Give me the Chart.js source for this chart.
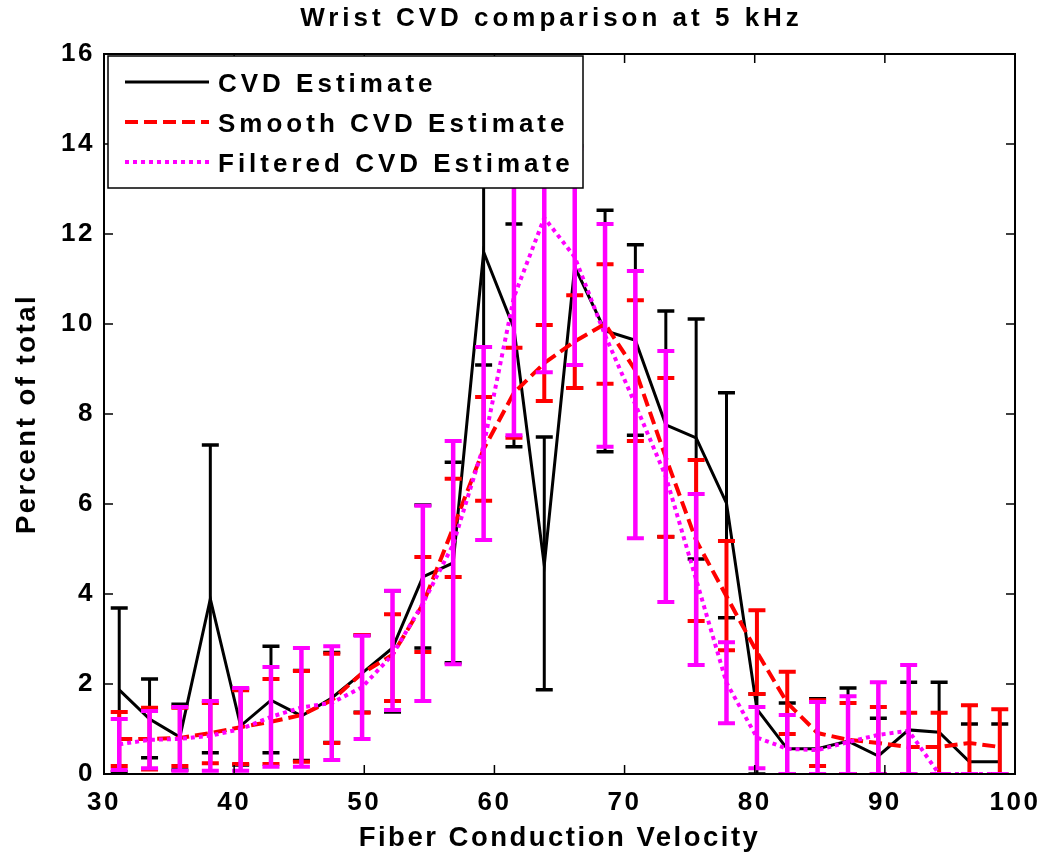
<!DOCTYPE html>
<html>
<head>
<meta charset="utf-8">
<title>Wrist CVD comparison at 5 kHz</title>
<script src="https://cdn.jsdelivr.net/npm/chart.js@4.4.1/dist/chart.umd.min.js"></script>
<style>
  html, body { margin: 0; padding: 0; background: #fff; }
  #contenedor { width: 1052px; height: 857px; }
</style>
</head>
<body>
<div id="contenedor"><canvas id="grafico" width="1052" height="857"></canvas></div>
<script>
// Centros de los intervalos de velocidad (eje x)
const velocidad = [31.17, 33.5, 35.83, 38.17, 40.5, 42.83, 45.17, 47.5, 49.83, 52.17,
                   54.5, 56.83, 59.17, 61.5, 63.83, 66.17, 68.5, 70.83, 73.17, 75.5,
                   77.83, 80.17, 82.5, 84.83, 87.17, 89.5, 91.83, 94.17, 96.5, 98.83];

// CVD Estimate (negro) con sus limites de error
const cvd     = [1.87, 1.22, 0.82, 3.89, 1.07, 1.64, 1.29, 1.69, 2.24, 2.8,
                 4.38, 4.69, 11.6, 9.9, 4.64, 11.27, 9.85, 9.64, 7.76, 7.47,
                 6.02, 1.44, 0.56, 0.56, 0.73, 0.4, 0.98, 0.93, 0.27, 0.27];
const cvdBajo = [0.05, 0.36, 0.09, 0.47, 0.2, 0.47, 0.3, 0.7, 1.37, 1.38,
                 2.8, 2.47, 9.09, 7.27, 1.87, 8.58, 7.16, 7.53, 5.27, 4.78,
                 3.47, 0, 0, 0, 0, 0, 0, 0, 0, 0];
const cvdAlto = [3.69, 2.11, 1.55, 7.31, 1.9, 2.84, 2.3, 2.7, 3.09, 4.07,
                 5.98, 6.93, 14.1, 12.22, 7.49, 13.96, 12.53, 11.76, 10.29, 10.11,
                 8.47, 1.78, 1.58, 1.67, 1.91, 1.24, 2.04, 2.04, 1.11, 1.11];

// Smooth CVD Estimate (rojo)
const suave     = [0.78, 0.78, 0.8, 0.91, 1.04, 1.16, 1.31, 1.64, 2.24, 2.65,
                   3.77, 5.47, 7.22, 8.47, 9.13, 9.61, 10.0, 8.97, 7.03, 5.19,
                   3.95, 2.71, 1.58, 0.91, 0.76, 0.69, 0.6, 0.6, 0.69, 0.6];
const suaveBajo = [0.18, 0.1, 0.18, 0.24, 0.22, 0.22, 0.27, 0.69, 1.36, 1.62,
                   2.71, 4.38, 6.07, 7.47, 8.29, 8.58, 8.67, 7.4, 5.27, 3.4,
                   2.75, 1.78, 0.89, 0.18, 0, 0, 0, 0, 0, 0];
const suaveAlto = [1.38, 1.47, 1.47, 1.58, 1.86, 2.11, 2.29, 2.67, 3.09, 3.55,
                   4.82, 6.56, 8.38, 9.47, 9.98, 10.64, 11.33, 10.53, 8.8, 6.98,
                   5.18, 3.64, 2.27, 1.64, 1.58, 1.49, 1.36, 1.36, 1.53, 1.44];

// Filtered CVD Estimate (magenta)
const filtrado     = [0.66, 0.76, 0.78, 0.85, 1.0, 1.27, 1.48, 1.58, 1.93, 2.65,
                      3.79, 5.1, 7.3, 10.6, 12.36, 11.49, 9.75, 8.21, 6.61, 4.32,
                      2.03, 0.81, 0.56, 0.53, 0.71, 0.87, 0.96, 0, 0, 0];
const filtradoBajo = [0.09, 0.13, 0.07, 0.07, 0.07, 0.16, 0.16, 0.31, 0.78, 1.42,
                      1.62, 2.44, 5.2, 7.53, 8.93, 9.09, 7.27, 5.24, 3.82, 2.42,
                      1.13, 0.13, 0, 0, 0, 0, 0, 0, 0, 0];
const filtradoAlto = [1.22, 1.4, 1.49, 1.62, 1.91, 2.38, 2.8, 2.84, 3.07, 4.07,
                      5.96, 7.4, 9.49, 13.67, 15.8, 13.9, 12.22, 11.18, 9.4, 6.22,
                      2.93, 1.49, 1.31, 1.6, 1.73, 2.04, 2.42, 0, 0, 0];

const ticksX = [30, 40, 50, 60, 70, 80, 90, 100];
const ticksY = [0, 2, 4, 6, 8, 10, 12, 14, 16];

const FUENTE = '"Liberation Sans", Arial, sans-serif';

function puntos(valores) {
    return velocidad.map((v, i) => ({ x: v, y: valores[i] }));
}

// barras de error estilo MATLAB
const barrasError = {
    id: 'barrasError',
    afterDatasetDraw(chart, args) {
        const ds = chart.data.datasets[args.index];
        if (!ds.errorBajo) return;
        const ctx = chart.ctx;
        const ejeX = chart.scales.x;
        const ejeY = chart.scales.y;
        const area = chart.chartArea;
        ctx.save();
        ctx.beginPath();
        ctx.rect(area.left, area.top, area.right - area.left, area.bottom - area.top);
        ctx.clip();
        ctx.strokeStyle = ds.borderColor;
        ctx.setLineDash([]);
        ctx.lineCap = 'butt';
        ds.data.forEach((p, i) => {
            const px = ejeX.getPixelForValue(p.x);
            const yb = ejeY.getPixelForValue(ds.errorBajo[i]);
            const ya = ejeY.getPixelForValue(ds.errorAlto[i]);
            const m = ds.anchoTope / 2;
            ctx.lineWidth = ds.grosorBarra;
            ctx.beginPath();
            ctx.moveTo(px, yb);
            ctx.lineTo(px, ya);
            ctx.stroke();
            ctx.lineWidth = ds.grosorTope;
            ctx.beginPath();
            ctx.moveTo(px - m, yb); ctx.lineTo(px + m, yb);
            ctx.moveTo(px - m, ya); ctx.lineTo(px + m, ya);
            ctx.stroke();
        });
        ctx.restore();
    }
};

// marco, ticks hacia dentro, titulo y leyenda
const decoracion = {
    id: 'decoracion',
    beforeDraw(chart) {
        chart.ctx.letterSpacing = '2.5px';
    },
    afterDraw(chart) {
        const ctx = chart.ctx;
        const a = chart.chartArea;
        const ejeX = chart.scales.x;
        const ejeY = chart.scales.y;
        ctx.save();
        ctx.strokeStyle = '#000';
        ctx.setLineDash([]);
        ctx.lineWidth = 1.5;
        ctx.beginPath();
        ticksX.forEach(t => {
            const px = ejeX.getPixelForValue(t);
            ctx.moveTo(px, a.bottom); ctx.lineTo(px, a.bottom - 9);
            ctx.moveTo(px, a.top); ctx.lineTo(px, a.top + 9);
        });
        ticksY.forEach(t => {
            const py = ejeY.getPixelForValue(t);
            ctx.moveTo(a.left, py); ctx.lineTo(a.left + 9, py);
            ctx.moveTo(a.right, py); ctx.lineTo(a.right - 9, py);
        });
        ctx.stroke();
        ctx.lineWidth = 2;
        ctx.strokeRect(a.left, a.top, a.right - a.left, a.bottom - a.top);

        // titulo
        ctx.fillStyle = '#000';
        ctx.font = 'bold 26px ' + FUENTE;
        ctx.letterSpacing = '4px';
        ctx.textAlign = 'center';
        ctx.textBaseline = 'middle';
        ctx.fillText('Wrist CVD comparison at 5 kHz', (a.left + a.right) / 2 - 8, 19);

        // leyenda
        const caja = { x: a.left + 4, y: a.top + 2, w: 475, h: 132 };
        ctx.fillStyle = '#fff';
        ctx.fillRect(caja.x, caja.y, caja.w, caja.h);
        ctx.lineWidth = 1.5;
        ctx.strokeRect(caja.x, caja.y, caja.w, caja.h);
        ctx.font = 'bold 26px ' + FUENTE;
        ctx.letterSpacing = '4px';
        ctx.textAlign = 'left';
        chart.data.datasets.forEach((ds, i) => {
            const yl = caja.y + 26 + i * 40;
            ctx.strokeStyle = ds.borderColor;
            ctx.lineWidth = ds.borderWidth;
            ctx.setLineDash(ds.borderDash || []);
            ctx.beginPath();
            ctx.moveTo(caja.x + 17, yl);
            ctx.lineTo(caja.x + 101, yl);
            ctx.stroke();
            ctx.fillStyle = '#000';
            ctx.fillText(ds.label, caja.x + 110, yl + 3);
        });
        ctx.restore();
    }
};

const ctx = document.getElementById('grafico').getContext('2d');
new Chart(ctx, {
    type: 'line',
    data: {
        datasets: [{
            label: 'CVD Estimate',
            data: puntos(cvd),
            errorBajo: cvdBajo,
            errorAlto: cvdAlto,
            borderColor: '#000000',
            borderWidth: 3,
            grosorBarra: 3,
            grosorTope: 3.5,
            anchoTope: 17,
            order: 3
        }, {
            label: 'Smooth CVD Estimate',
            data: puntos(suave),
            errorBajo: suaveBajo,
            errorAlto: suaveAlto,
            borderColor: '#ff0000',
            borderWidth: 4,
            borderDash: [13, 6],
            grosorBarra: 4,
            grosorTope: 4,
            anchoTope: 17,
            order: 2
        }, {
            label: 'Filtered CVD Estimate',
            data: puntos(filtrado),
            errorBajo: filtradoBajo,
            errorAlto: filtradoAlto,
            borderColor: '#ff00ff',
            borderWidth: 4,
            borderDash: [4, 4],
            grosorBarra: 4.5,
            grosorTope: 4,
            anchoTope: 17,
            order: 1
        }]
    },
    options: {
        responsive: false,
        animation: false,
        events: [],
        layout: { padding: { top: 54, right: 37, left: 0, bottom: 0 } },
        elements: {
            point: { radius: 0 },
            line: { tension: 0, fill: false, borderCapStyle: 'butt' }
        },
        plugins: {
            legend: { display: false },
            tooltip: { enabled: false },
            title: { display: false }
        },
        scales: {
            x: {
                type: 'linear',
                min: 30,
                max: 100,
                afterFit: (s) => { s.height = 83; },
                ticks: { stepSize: 10, color: '#000', padding: 13,
                         font: { family: FUENTE, size: 26, weight: 'bold' } },
                grid: { display: false, drawTicks: false },
                border: { display: false },
                title: { display: true, text: 'Fiber Conduction Velocity', color: '#000',
                         padding: { top: 0, bottom: 2 },
                         font: { family: FUENTE, size: 27.5, weight: 'bold' } }
            },
            y: {
                min: 0,
                max: 16,
                afterFit: (s) => { s.width = 104; },
                ticks: { stepSize: 2, color: '#000', padding: 9,
                         font: { family: FUENTE, size: 26, weight: 'bold' } },
                grid: { display: false, drawTicks: false },
                border: { display: false },
                title: { display: true, text: 'Percent of total', color: '#000',
                         padding: { top: 11, bottom: 0 },
                         font: { family: FUENTE, size: 27.5, weight: 'bold' } }
            }
        }
    },
    plugins: [barrasError, decoracion]
});
</script>
</body>
</html>
